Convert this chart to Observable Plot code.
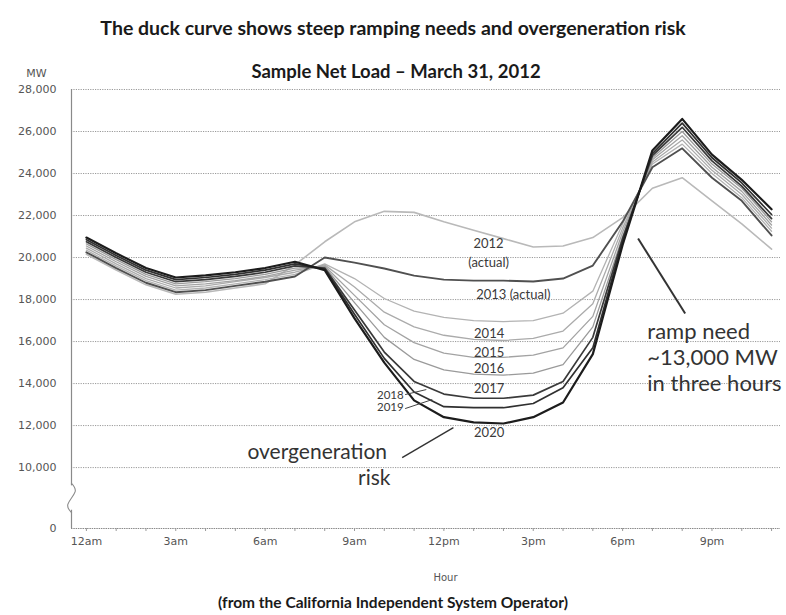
<!DOCTYPE html>
<html>
<head>
<meta charset="utf-8">
<script src="https://cdn.jsdelivr.net/npm/d3@7"></script>
<script src="https://cdn.jsdelivr.net/npm/@observablehq/plot@0.6"></script>
<style>
  body { margin: 0; background: #fff; width: 786px; height: 615px; overflow: hidden; }
  #title { height: 50px; box-sizing: border-box; padding-top: 18px; text-align: center;
           font-family: Lato, "DejaVu Sans", sans-serif; font-weight: 700; font-size: 19.5px;
           line-height: 1; color: #1a1a1a; }
  #chart svg { display: block; }
  #footer { text-align: center; font-family: Lato, "DejaVu Sans", sans-serif; font-weight: 700;
            font-size: 15.5px; line-height: 1; margin-top: 5px; color: #1a1a1a; }
</style>
</head>
<body>
<div id="title">The duck curve shows steep ramping needs and overgeneration risk</div>
<div id="chart"></div>
<div id="footer">(from the California Independent System Operator)</div>
<script>
// Hour of day (0 = midnight)
const hours = [0, 1, 2, 3, 4, 5, 6, 7, 8, 9, 10, 11, 12, 13, 14, 15, 16, 17, 18, 19, 20, 21, 22, 23];

// Net load (MW) by hour for each scenario year
const load2012 = [20150, 19400, 18700, 18250, 18350, 18550, 18750, 19650, 20750, 21700, 22200, 22150, 21700, 21300, 20900, 20500, 20550, 20950, 21900, 23300, 23800, 22700, 21600, 20400];
const load2013 = [20250, 19500, 18800, 18350, 18450, 18650, 18850, 19100, 20000, 19760, 19480, 19140, 18950, 18900, 18900, 18860, 19000, 19620, 21700, 24300, 25200, 23800, 22700, 21050];
const load2014 = [20350, 19600, 18900, 18450, 18550, 18750, 18950, 19200, 19700, 19000, 18050, 17450, 17150, 17000, 16950, 17000, 17350, 18400, 21600, 24450, 25400, 24000, 22850, 21250];
const load2015 = [20450, 19700, 19000, 18550, 18650, 18850, 19050, 19300, 19650, 18600, 17400, 16700, 16300, 16100, 16050, 16150, 16500, 17800, 21400, 24550, 25600, 24150, 23000, 21400];
const load2016 = [20550, 19800, 19100, 18650, 18750, 18900, 19100, 19400, 19600, 18200, 16800, 15950, 15450, 15250, 15250, 15350, 15700, 17200, 21200, 24650, 25800, 24300, 23150, 21550];
const load2017 = [20650, 19900, 19200, 18750, 18850, 19000, 19200, 19500, 19550, 17850, 16200, 15150, 14650, 14450, 14400, 14500, 14900, 16700, 21000, 24750, 26000, 24450, 23300, 21700];
const load2018 = [20750, 20000, 19300, 18850, 18950, 19100, 19300, 19600, 19500, 17500, 15500, 14100, 13500, 13300, 13300, 13450, 14100, 16200, 20900, 24850, 26200, 24600, 23400, 21850];
const load2019 = [20850, 20100, 19400, 18950, 19050, 19200, 19400, 19700, 19450, 17300, 15200, 13600, 12900, 12850, 12850, 13050, 13800, 15700, 20800, 24950, 26400, 24750, 23550, 22050];
const load2020 = [20950, 20200, 19500, 19050, 19150, 19300, 19500, 19800, 19400, 17100, 15000, 13200, 12400, 12150, 12100, 12400, 13100, 15400, 20600, 25100, 26600, 24900, 23700, 22300];

const years = ["2012", "2013", "2014", "2015", "2016", "2017", "2018", "2019", "2020"];
const series = [load2012, load2013, load2014, load2015, load2016, load2017, load2018, load2019, load2020];

// Axis ticks and labels
const yTicks = [0, 10000, 12000, 14000, 16000, 18000, 20000, 22000, 24000, 26000, 28000];
const gridValues = [10000, 12000, 14000, 16000, 18000, 20000, 22000, 24000, 26000, 28000];
const xTicks = [0, 3, 6, 9, 12, 15, 18, 21];
const xTickLabels = ["12am", "3am", "6am", "9am", "12pm", "3pm", "6pm", "9pm"];

// Curve labels placed next to their lines (hour, MW)
const curveLabels = [
  {text: "2012", hour: 13.5, mw: 20670},
  {text: "(actual)", hour: 13.5, mw: 19760},
  {text: "2013 (actual)", hour: 14.33, mw: 18240},
  {text: "2014", hour: 13.52, mw: 16380},
  {text: "2015", hour: 13.52, mw: 15480},
  {text: "2016", hour: 13.52, mw: 14710},
  {text: "2017", hour: 13.52, mw: 13760},
  {text: "2020", hour: 13.52, mw: 11670}
];
const smallLabels = [
  {text: "2018", hour: 10.65, mw: 13430},
  {text: "2019", hour: 10.65, mw: 12860}
];
const leaders = [
  {h1: 10.7, m1: 13476, h2: 11.41, m2: 13714},
  {h1: 10.7, m1: 12810, h2: 11.61, m2: 13238}
];

// Line styling per year
const strokeOf = {
  "2012": "#b9b9b9", "2013": "#505050", "2014": "#b3b3b3", "2015": "#ababab", "2016": "#a3a3a3",
  "2017": "#9a9a9a", "2018": "#3a3a3a", "2019": "#303030", "2020": "#1c1c1c"
};
const widthOf = {
  "2012": 1.6, "2013": 1.9, "2014": 1.3, "2015": 1.3, "2016": 1.3,
  "2017": 1.3, "2018": 1.7, "2019": 1.7, "2020": 2.2
};
const drawOrder = ["2012", "2014", "2015", "2016", "2017", "2013", "2018", "2019", "2020"];

const rows = years.flatMap((year, i) => hours.map((hour, j) => ({year, hour, mw: series[i][j]})));

// Broken y axis: the span below 10,000 MW is compressed
const breakAt = 10000;
const breakFactor = 0.29;
const brk = v => (v >= breakAt ? v : breakAt - (breakAt - v) * breakFactor);

const annFont = "Lato, 'DejaVu Sans', sans-serif";

const chart = Plot.plot({
  width: 786,
  height: 540,
  marginLeft: 71,
  marginRight: 6,
  marginTop: 39,
  marginBottom: 62,
  x: {domain: [-0.5, 23.3], range: [71, 780]},
  y: {type: "linear", transform: brk, domain: [brk(0), 28000], range: [478, 39]},
  style: {fontFamily: "'DejaVu Sans', sans-serif", background: "#fff", color: "#444"},
  marks: [
    // dotted grid
    Plot.ruleY(gridValues, {stroke: "#9a9a9a", strokeWidth: 1, strokeDasharray: "1.2,1.2"}),
    // axis lines
    Plot.ruleY([0], {stroke: "#8a8a8a", strokeWidth: 1.2, strokeDasharray: "1.5,0.8"}),
    Plot.ruleX([-0.5], {y1: 0, y2: 28000, stroke: "#8a8a8a", strokeWidth: 1.2}),
    // axis break on the y axis
    Plot.ruleX([-0.5], {y1: 3000, y2: 7000, stroke: "#fff", strokeWidth: 4}),
    Plot.line([{h: -0.5, m: 2600}, {h: -0.62, m: 4000}, {h: -0.38, m: 6000}, {h: -0.5, m: 7400}],
      {x: "h", y: "m", curve: "natural", stroke: "#8a8a8a", strokeWidth: 1.1}),
    // hourly minor ticks and labelled ticks
    Plot.axisX(hours, {tickSize: 3, tickFormat: () => "", stroke: "#9a9a9a", label: null}),
    Plot.axisX(xTicks, {tickSize: 0, tickPadding: 9, fontSize: 11, fill: "#555",
      tickFormat: d => xTickLabels[xTicks.indexOf(d)], label: null}),
    Plot.axisY(yTicks, {tickSize: 0, tickPadding: 15, fontSize: 11, fill: "#555",
      tickFormat: d3.format(","), label: null}),
    // net load curves
    ...drawOrder.map(year => Plot.line(rows.filter(r => r.year === year), {
      x: "hour", y: "mw", stroke: strokeOf[year], strokeWidth: widthOf[year], strokeLinejoin: "round"
    })),
    // curve labels
    Plot.text(curveLabels, {x: "hour", y: "mw", text: "text", fontSize: 13, fontFamily: annFont, fill: "#3a3a3a"}),
    Plot.text(smallLabels, {x: "hour", y: "mw", text: "text", fontSize: 11.5, fontFamily: annFont, fill: "#3a3a3a", textAnchor: "end"}),
    Plot.link(leaders, {x1: "h1", y1: "m1", x2: "h2", y2: "m2", stroke: "#444", strokeWidth: 1}),
    // overgeneration annotation
    Plot.text(["overgeneration"], {x: 7.75, y: 10714, fontSize: 21, fontFamily: annFont, fill: "#333"}),
    Plot.text(["risk"], {x: 7.75, y: 10714, dx: 57, dy: 26, fontSize: 21, fontFamily: annFont, fill: "#333"}),
    Plot.link([{}], {x1: 10.6, y1: 10476, x2: 12.32, y2: 11905, stroke: "#333", strokeWidth: 1.4}),
    // ramp annotation
    Plot.text(["ramp need\n~13,000 MW\nin three hours"], {x: 18.83, y: 15286, textAnchor: "start",
      lineAnchor: "middle", lineHeight: 1.2, fontSize: 22, fontFamily: annFont, fill: "#333"}),
    Plot.link([{}], {x1: 18.52, y1: 20905, x2: 20.1, y2: 17333, stroke: "#333", strokeWidth: 2}),
    // titles on the frame
    Plot.text(["Sample Net Load \u2013 March 31, 2012"], {frameAnchor: "top", lineAnchor: "middle", dx: -30, dy: -17,
      fontSize: 18.5, fontWeight: 700, fontFamily: annFont, fill: "#1a1a1a"}),
    Plot.text(["MW"], {frameAnchor: "top-left", textAnchor: "middle", lineAnchor: "middle", dx: -35, dy: -16, fontSize: 11, fill: "#555"}),
    Plot.text(["Hour"], {frameAnchor: "bottom", dx: 19.5, dy: 52, fontSize: 10, fill: "#555"})
  ]
});

document.getElementById("chart").appendChild(chart);
</script>
</body>
</html>
